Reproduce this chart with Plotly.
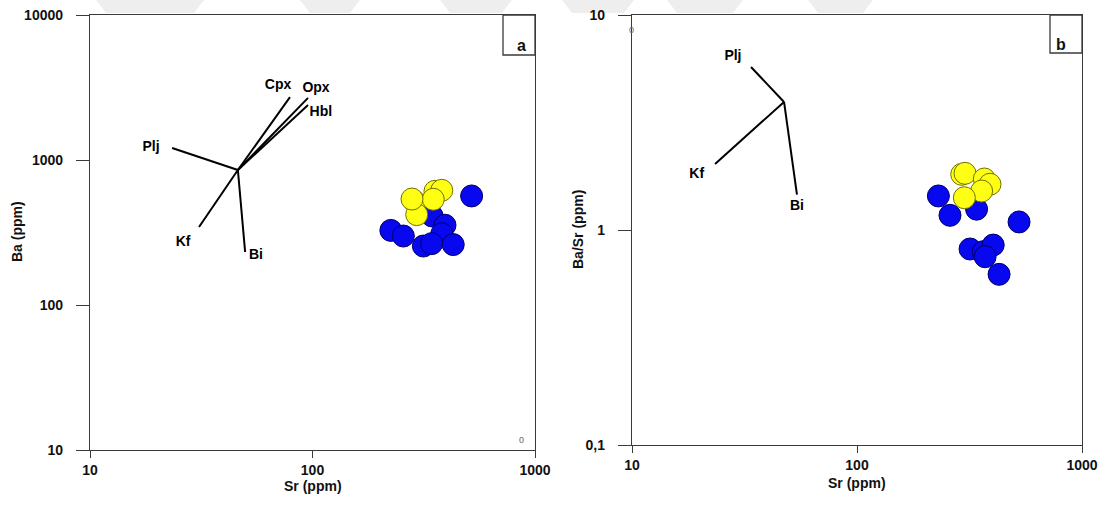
import plotly.graph_objects as go

# ---- Panel a: Ba vs Sr ----
sr_a_blue = [519, 225, 256, 315, 345, 394, 381, 429, 343]
ba_a_blue = [565, 327, 299, 255, 411, 355, 310, 261, 265]
sr_a_yellow = [287, 294, 355, 381, 349, 280]
ba_a_yellow = [519, 420, 608, 618, 536, 538]

# mineral vectors for panel a: common origin + end points
vec_a_origin = (46.2, 853)
vec_a_names = ["Plj", "Cpx", "Opx", "Hbl", "Kf", "Bi"]
vec_a_end_sr = [23.4, 79.2, 95.5, 95.5, 30.9, 49.8]
vec_a_end_ba = [1211, 2716, 2680, 2393, 345, 232]
vec_a_label_sr = [18.8, 70.0, 103.7, 109, 26.2, 55.7]
vec_a_label_ba = [1229, 3289, 3089, 2110, 268, 218]

# ---- Panel b: Ba/Sr vs Sr ----
sr_b_blue = [230, 259, 340, 525, 318, 364, 403, 371, 428]
ratio_b_blue = [1.44, 1.17, 1.25, 1.09, 0.816, 0.793, 0.851, 0.751, 0.622]
sr_b_yellow = [292, 302, 368, 390, 358, 300]
ratio_b_yellow = [1.815, 1.835, 1.727, 1.632, 1.518, 1.413]

vec_b_origin = (47.4, 3.94)
vec_b_names = ["Plj", "Kf", "Bi"]
vec_b_end_sr = [33.8, 23.4, 54.1]
vec_b_end_ratio = [5.73, 2.03, 1.46]
vec_b_label_sr = [28.1, 19.4, 54.1]
vec_b_label_ratio = [6.38, 1.82, 1.29]

x_ticks = [10, 100, 1000]
x_ticktext = ["10", "100", "1000"]
ya_ticks = [10, 100, 1000, 10000]
ya_ticktext = ["10", "100", "1000", "10000"]
yb_ticks = [0.1, 1, 10]
yb_ticktext = ["0,1", "1", "10"]

FONT = "Liberation Sans, Arial, sans-serif"
BLUE = "#0808f0"
BLUE_EDGE = "#00006a"
YELLOW = "#ffff14"
YELLOW_EDGE = "#707000"

W, H = 1107, 507

fig = go.Figure()


def add_vectors(origin, ends_x, ends_y, xa, ya):
    for ex, ey in zip(ends_x, ends_y):
        fig.add_trace(go.Scatter(
            x=[origin[0], ex], y=[origin[1], ey], mode="lines",
            line=dict(color="black", width=2), xaxis=xa, yaxis=ya,
            showlegend=False, hoverinfo="skip"))


def add_labels(names, lx, ly, xa, ya):
    fig.add_trace(go.Scatter(
        x=lx, y=ly, mode="text", text=names,
        textfont=dict(family=FONT, size=14, color="black", weight="bold"),
        xaxis=xa, yaxis=ya, showlegend=False, hoverinfo="skip"))


def add_points(xs, ys, fill, edge, xa, ya):
    fig.add_trace(go.Scatter(
        x=xs, y=ys, mode="markers",
        marker=dict(size=22, color=fill, line=dict(color=edge, width=1)),
        xaxis=xa, yaxis=ya, showlegend=False))


# panel a
add_vectors(vec_a_origin, vec_a_end_sr, vec_a_end_ba, "x", "y")
add_labels(vec_a_names, vec_a_label_sr, vec_a_label_ba, "x", "y")
add_points(sr_a_blue, ba_a_blue, BLUE, BLUE_EDGE, "x", "y")
add_points(sr_a_yellow, ba_a_yellow, YELLOW, YELLOW_EDGE, "x", "y")

# panel b
add_vectors(vec_b_origin, vec_b_end_sr, vec_b_end_ratio, "x2", "y2")
add_labels(vec_b_names, vec_b_label_sr, vec_b_label_ratio, "x2", "y2")
add_points(sr_b_blue, ratio_b_blue, BLUE, BLUE_EDGE, "x2", "y2")
add_points(sr_b_yellow, ratio_b_yellow, YELLOW, YELLOW_EDGE, "x2", "y2")

tickfont = dict(family=FONT, size=14, color="#111", weight="bold")
axis_common = dict(
    type="log", showgrid=False, zeroline=False, showline=True,
    linecolor="#3a3a3a", linewidth=1.3, mirror=True,
    ticks="outside", ticklen=13, tickwidth=1.3, tickcolor="#3a3a3a",
    tickfont=tickfont, minor=dict(ticks=""), automargin=False,
    ticklabeloverflow="allow",
)


def px_x(p):
    return p / W


def px_y(p):
    return 1 - p / H


fig.update_layout(
    width=W, height=H, autosize=False,
    margin=dict(l=0, r=0, t=0, b=0),
    paper_bgcolor="white", plot_bgcolor="white",
    xaxis=dict(axis_common, domain=[px_x(90), px_x(535)], range=[1, 3],
               anchor="y", tickvals=x_ticks, ticktext=x_ticktext,
               ticklen=7, ticklabelstandoff=0),
    yaxis=dict(axis_common, domain=[px_y(450), px_y(15)], range=[1, 4],
               anchor="x", tickvals=ya_ticks, ticktext=ya_ticktext,
               ticklabelstandoff=10),
    xaxis2=dict(axis_common, domain=[px_x(632), px_x(1082)], range=[1, 3],
                anchor="y2", tickvals=x_ticks, ticktext=x_ticktext,
                ticklen=7, ticklabelstandoff=0),
    yaxis2=dict(axis_common, domain=[px_y(445), px_y(15)], range=[-1, 1],
                anchor="x2", tickvals=yb_ticks, ticktext=yb_ticktext,
                ticklabelstandoff=10),
)

title_font = dict(family=FONT, size=14, color="#111", weight="bold")
annotations = [
    dict(text="Sr (ppm)", x=px_x(313), y=px_y(486)),
    dict(text="Sr (ppm)", x=px_x(857), y=px_y(483)),
    dict(text="Ba (ppm)", x=px_x(17), y=px_y(232), textangle=-90),
    dict(text="Ba/Sr (ppm)", x=px_x(578), y=px_y(230), textangle=-90),
]
for a in annotations:
    fig.add_annotation(xref="paper", yref="paper", xanchor="center",
                       yanchor="middle", showarrow=False, font=title_font, **a)

# panel letter boxes
for letter, x0, x1, y1 in [("a", 503, 535, 55), ("b", 1050, 1082, 53)]:
    fig.add_shape(type="rect", xref="paper", yref="paper",
                  x0=px_x(x0), x1=px_x(x1), y0=px_y(y1), y1=px_y(15),
                  line=dict(color="#3a3a3a", width=1.3), fillcolor="white")
    fig.add_annotation(text=letter, xref="paper", yref="paper",
                       x=px_x((x0 + x1) / 2 + 2), y=px_y((15 + y1) / 2),
                       showarrow=False,
                       font=dict(family=FONT, size=16, color="#111", weight="bold"))

# stray tick digits near the frame corners
for tx, ty in [(521, 447), (631, 23)]:
    fig.add_annotation(text="0", xref="paper", yref="paper",
                       x=px_x(tx), y=px_y(ty), showarrow=False,
                       font=dict(family=FONT, size=9, color="#666"))

# faint watermark bands along the top edge
for x0, x1 in [(96, 204), (300, 360), (440, 512), (562, 634), (667, 743), (808, 873)]:
    fig.add_shape(type="path", xref="paper", yref="paper", layer="below",
                  path=f"M {px_x(x0)} 1 L {px_x(x1)} 1 "
                       f"L {px_x(x1 - 10)} {px_y(13)} L {px_x(x0 + 10)} {px_y(13)} Z",
                  line=dict(width=0), fillcolor="rgba(200,200,200,0.3)")

fig.write_html("out.html")
